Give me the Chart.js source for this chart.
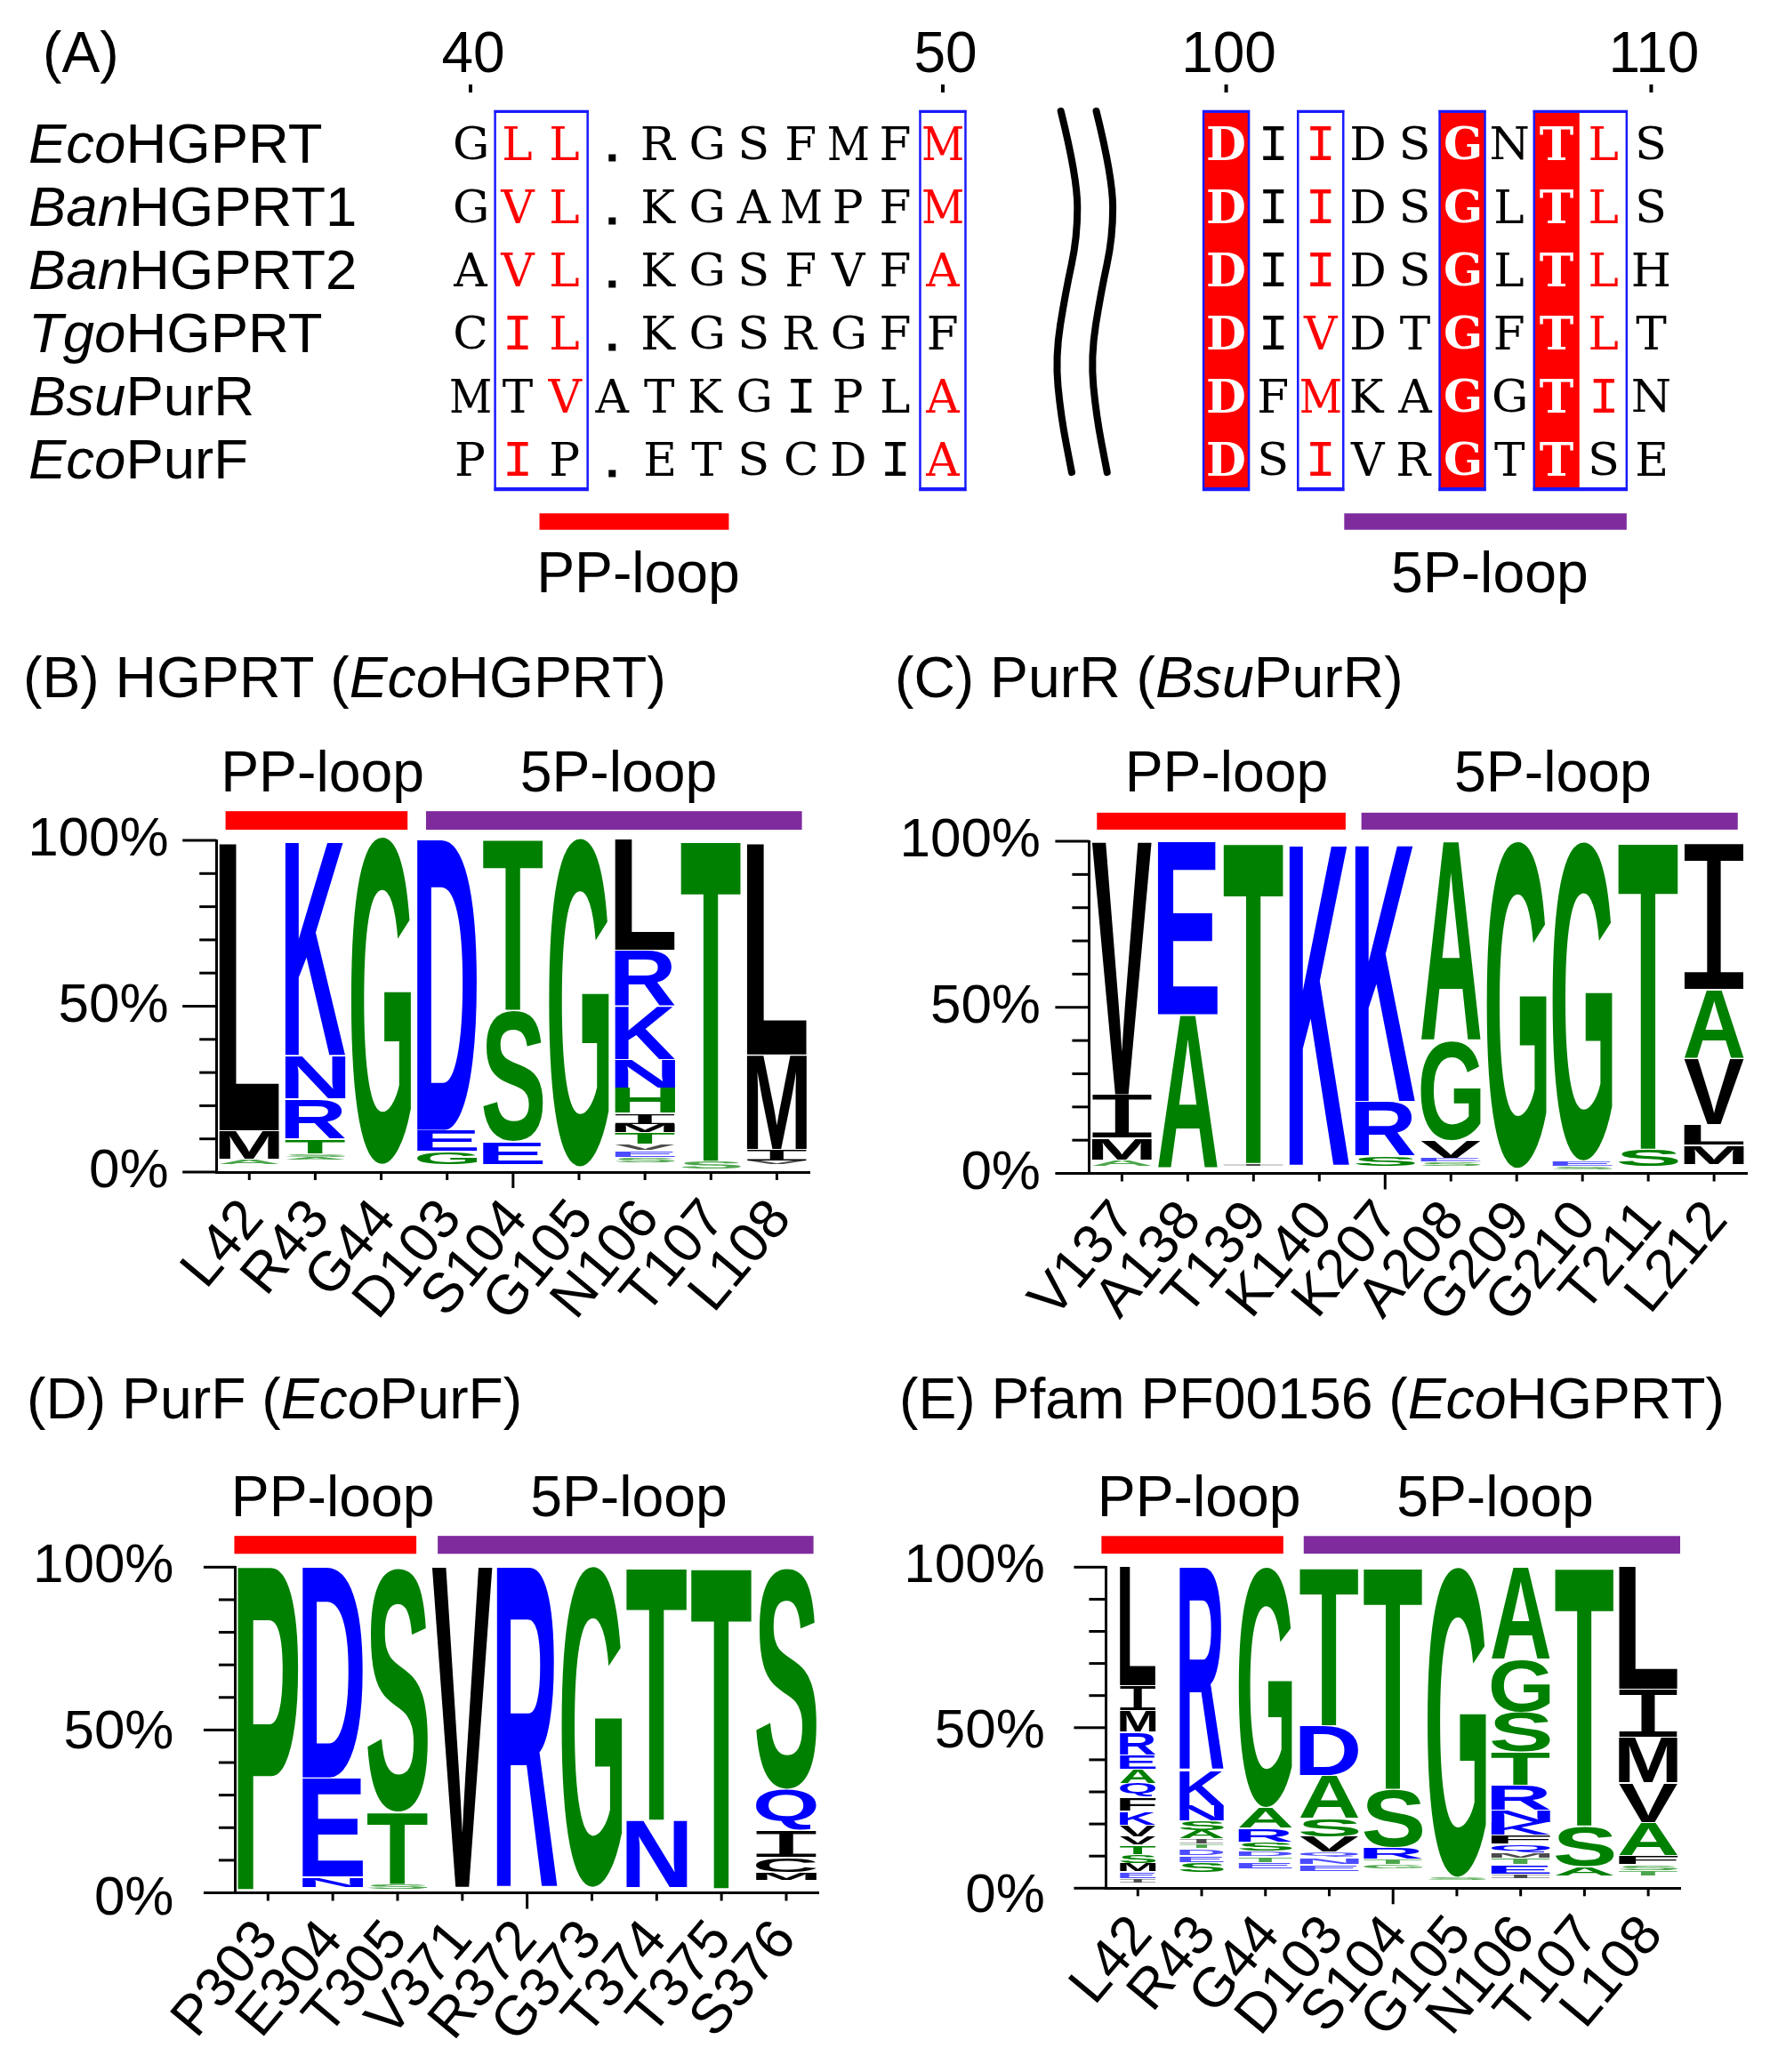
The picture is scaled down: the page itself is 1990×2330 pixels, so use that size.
<!DOCTYPE html>
<html>
<head>
<meta charset="utf-8">
<title>PP-loop and 5P-loop conservation</title>
<script src="https://cdn.jsdelivr.net/npm/chart.js@4.4.3/dist/chart.umd.min.js"></script>
<style>
  html, body { margin: 0; padding: 0; background: #fff; }
  #page { position: relative; width: 1990px; height: 2330px; overflow: hidden; }
  canvas { position: absolute; }
</style>
</head>
<body>
<div id="page"></div>
<script>
// (A) alignment
const rowItalic = ["Eco", "Ban", "Ban", "Tgo", "Bsu", "Eco"];
const rowRest = ["HGPRT", "HGPRT1", "HGPRT2", "HGPRT", "PurR", "PurF"];
const alignSeqs = [
  "GLL.RGSFMFM     DIIDSGNTLS",
  "GVL.KGAMPFM     DIIDSGLTLS",
  "AVL.KGSFVFA     DIIDSGLTLH",
  "CIL.KGSRGFF     DIVDTGFTLT",
  "MTVATKGIPLA     DFMKAGGTIN",
  "PIP.ETSCDIA     DSIVRGTTSE",
];
const alignRedText = [
  ".XX.......X.......X.....X.",
  ".XX.......X.......X.....X.",
  ".XX.......X.......X.....X.",
  ".XX...............X.....X.",
  "..X.......X.......X.....X.",
  ".X........X.......X.......",
];
const alignRuler = { 0: "40", 10: "50", 16: "100", 25: "110" };
const alignFilled = [16, 21, 23];
const alignBoxes = [[1, 2], [10, 10], [16, 16], [18, 18], [21, 21], [23, 24]];
const alignLoops = [[1.46, 5.47], [18.5, 24.48]];

// (B) HGPRT
const logoBLabels = ["L42", "R43", "G44", "D103", "S104", "G105", "N106", "T107", "L108"];
const logoBLetters = ["AML", "ASTRNK", "G", "GED", "EST", "G", "SEVTMIHNKRL", "ST", "VIML"];
const logoBBase = [2.3, 3.7, 2.3, 2.3, 2.3, 1.6, 2.9, 1.0, 2.3];
const logoBHeights = [
  [1.6, 8.6, 86.7],
  [0.8, 1.1, 4.4, 12.1, 13.1, 64.8],
  [98.9],
  [3.9, 6.4, 87.8],
  [6.9, 39.6, 51.7],
  [99.2],
  [1.65, 1.9, 2.1, 3.4, 2.5, 3.3, 7.7, 8.5, 16.2, 16.8, 33.4],
  [2.3, 97.0],
  [1.1, 3.4, 28.5, 63.8],
];

// (C) PurR
const logoCLabels = ["V137", "A138", "T139", "K140", "K207", "A208", "G209", "G210", "T211", "L212"];
const logoCLetters = ["AMIV", "AE", "IT", "K", "SRK", "SEVGA", "G", "SEG", "ST", "MLVAI"];
const logoCBase = [2.2, 1.5, 2.2, 2.5, 2.2, 2.2, 1.5, 1.1, 2.2, 2.7];
const logoCHeights = [
  [1.9, 6.6, 13.0, 76.2],
  [46.3, 52.2],
  [0.8, 97.0],
  [97.0],
  [3.0, 16.5, 77.7],
  [1.2, 1.1, 5.5, 29.8, 60.2],
  [98.6],
  [1.1, 1.6, 96.2],
  [5.1, 92.7],
  [5.9, 6.2, 19.9, 20.6, 44.1],
];

// (D) PurF
const logoDLabels = ["P303", "E304", "T305", "V371", "R372", "G373", "T374", "T375", "S376"];
const logoDLetters = ["P", "NED", "STS", "V", "R", "G", "NT", "T", "MCIQS"];
const logoDBase = [1.0, 1.7, 1.0, 1.7, 1.3, 1.7, 1.7, 1.3, 3.8];
const logoDHeights = [
  [99.9],
  [3.2, 30.4, 64.8],
  [1.7, 22.1, 74.9],
  [98.5],
  [98.9],
  [98.7],
  [20.6, 77.9],
  [98.9],
  [2.5, 4.5, 8.4, 12.6, 67.9],
];

// (E) Pfam PF00156
const logoELabels = ["L42", "R43", "G44", "D103", "S104", "G105", "N106", "T107", "L108"];
const logoELetters = ["IEMSTVVKFQAERMIL", "SEDTIASNKR", "ETDSRAG", "ENQVSADT", "GTRST", "SG", "IETMQFKNRTSGA", "AST", "TSFAVMIL"];
const logoEBase = [1.7, 5.0, 6.0, 5.3, 6.0, 2.4, 3.1, 3.8, 3.8];
const logoEHeights = [
  [1.4, 2.1, 2.6, 2.8, 2.8, 2.7, 3.6, 4.3, 4.3, 4.3, 4.4, 4.5, 7.1, 6.7, 7.7, 37.2],
  [3.1, 2.1, 2.1, 1.4, 1.7, 2.6, 3.1, 4.7, 10.9, 63.4],
  [2.1, 1.7, 1.8, 2.8, 4.3, 6.4, 75.0],
  [2.1, 2.1, 1.7, 4.7, 5.7, 13.5, 15.6, 49.4],
  [1.4, 1.8, 3.4, 18.2, 69.3],
  [1.0, 96.7],
  [1.4, 2.8, 2.1, 1.7, 2.6, 2.8, 4.0, 3.8, 7.8, 10.2, 12.5, 16.3, 28.8],
  [2.8, 12.8, 80.7],
  [1.7, 1.8, 2.8, 10.4, 12.4, 14.2, 14.9, 38.1],
];

const RED = "#ff0000";
const PURPLE = "#7f2b9e";
const BLUE = "#0000ff";
const GREEN = "#008000";
const BOX = "#1a1aff";
const SANS = '"Liberation Sans", Arial, sans-serif';
const LABEL_PX = 64.3;

Chart.defaults.font.family = SANS;
Chart.defaults.color = "#000";

function letterColor(c) {
  if ("DEKRNQ".includes(c)) return BLUE;
  if ("AGHSTP".includes(c)) return GREEN;
  return "#000";
}

// stretch one glyph so that its ink fills the given box
function drawGlyph(ctx, c, font, color, x, yTop, w, h) {
  ctx.save();
  ctx.font = font;
  ctx.textAlign = "left";
  ctx.textBaseline = "alphabetic";
  const m = ctx.measureText(c);
  const gw = m.actualBoundingBoxLeft + m.actualBoundingBoxRight;
  const gh = m.actualBoundingBoxAscent + m.actualBoundingBoxDescent;
  if (h < 8) ctx.globalAlpha = 0.7; // tiny letters wash out in the original
  ctx.translate(x, yTop);
  ctx.scale(w / gw, h / gh);
  ctx.fillStyle = color;
  ctx.fillText(c, m.actualBoundingBoxLeft, m.actualBoundingBoxAscent);
  ctx.restore();
}

// alternating upright / italic pieces
function drawRuns(ctx, runs, x, y, size) {
  ctx.save();
  ctx.textAlign = "left";
  ctx.textBaseline = "alphabetic";
  ctx.fillStyle = "#000";
  runs.forEach((t, i) => {
    ctx.font = `${i % 2 ? "italic " : ""}${size}px ${SANS}`;
    ctx.fillText(t, x, y);
    x += ctx.measureText(t).width;
  });
  ctx.restore();
}

function addCanvas(r) {
  const c = document.createElement("canvas");
  c.width = r.w; c.height = r.h;
  c.style.left = r.x + "px"; c.style.top = r.y + "px";
  c.style.width = r.w + "px"; c.style.height = r.h + "px";
  document.getElementById("page").appendChild(c);
  return c;
}

function logoChart(cfg, labels, letters, base, heights) {
  const r = cfg.rect;
  const layers = Math.max(...letters.map((s) => s.length));
  const datasets = [{ data: base, backgroundColor: "transparent", stack: "s" }];
  for (let k = 0; k < layers; k++) {
    datasets.push({
      data: heights.map((h) => (k < h.length ? h[k] : null)),
      letters: letters.map((s) => s[k] || null),
      backgroundColor: "transparent",
      stack: "s",
    });
  }
  const logoPlugin = {
    id: "logo",
    afterDatasetsDraw(chart) {
      const { ctx, scales: { x, y } } = chart;
      // stacked letters
      chart.data.datasets.forEach((ds, d) => {
        if (!ds.letters) return;
        chart.getDatasetMeta(d).data.forEach((el, j) => {
          const c = ds.letters[j];
          if (!c) return;
          const font = c === "I" ? '200px "Liberation Mono"' : `bold 200px ${SANS}`;
          const w = el.width * (cfg.colScale ? cfg.colScale[j] : 1);
          const h = Math.max(el.base - el.y - 1, 0.6);
          drawGlyph(ctx, c, font, letterColor(c), el.x - w / 2, el.y + 0.5, w, h);
        });
      });
      // axis ticks and their labels
      ctx.save();
      ctx.fillStyle = "#000";
      y.ticks.forEach((t) => {
        const py = y.getPixelForValue(t.value);
        const major = t.value % 50 === 0;
        const len = major ? cfg.yMajor : cfg.yMinor;
        ctx.fillRect(x.left - len, py - 1.5, len, 3);
        if (major) {
          ctx.font = `62px ${SANS}`;
          ctx.textAlign = "right";
          ctx.textBaseline = "middle";
          ctx.fillText(t.value + "%", cfg.yLabelRight - r.x, py + cfg.yLabelDrop * (1 - t.value / 100));
        }
      });
      x.ticks.forEach((t, i) => {
        const px = x.getPixelForTick(i);
        const len = i === cfg.midTick ? 18 : 9;
        ctx.fillRect(px - 1.5, y.bottom, 3, len);
      });
      // loop bars and their names
      cfg.loops.forEach((sp, i) => {
        const a = x.getPixelForValue(sp[0]), b = x.getPixelForValue(sp[1]);
        const t = y.getPixelForValue(cfg.loopTop), u = y.getPixelForValue(cfg.loopBottom);
        ctx.fillStyle = i ? PURPLE : RED;
        ctx.fillRect(a, t, b - a, u - t);
      });
      ctx.fillStyle = "#000";
      ctx.font = `${LABEL_PX}px ${SANS}`;
      ctx.textAlign = "center";
      ctx.textBaseline = "alphabetic";
      ["PP-loop", "5P-loop"].forEach((t, i) => {
        ctx.fillText(t, x.getPixelForValue(cfg.loopText[i]), y.getPixelForValue(cfg.loopTextY));
      });
      ctx.restore();
      drawRuns(ctx, cfg.title, cfg.titleX - r.x, cfg.titleY - r.y, LABEL_PX);
    },
  };
  return new Chart(addCanvas(r), {
    type: "bar",
    data: { labels, datasets },
    options: {
      responsive: false,
      animation: false,
      devicePixelRatio: 1,
      barPercentage: cfg.bar,
      categoryPercentage: 1,
      layout: { padding: { left: 0, right: r.x + r.w - cfg.right, top: cfg.top - r.y, bottom: 0 } },
      plugins: { legend: { display: false }, tooltip: { enabled: false } },
      scales: {
        x: {
          stacked: true,
          grid: { display: false, drawTicks: false },
          border: { color: "#000", width: 3 },
          afterFit: (s) => { s.height = r.y + r.h - cfg.bottom; },
          ticks: {
            autoSkip: false, minRotation: 50, maxRotation: 50,
            padding: 18, labelOffset: cfg.xOffset,
            font: { size: 62.5 }, color: "#000",
          },
        },
        y: {
          stacked: true, min: 0, max: 100,
          grid: { display: false, drawTicks: false },
          border: { color: "#000", width: 3 },
          afterFit: (s) => { s.width = cfg.left - r.x; },
          ticks: { display: false, stepSize: 10, autoSkip: false },
        },
      },
    },
    plugins: [logoPlugin],
  });
}

// ---- panel A
const alignCols = alignSeqs[0].split("").map((_, i) => alignRuler[i] || "");
const alignPlugin = {
  id: "align",
  afterDatasetsDraw(chart) {
    const { ctx, scales: { x, y } } = chart;
    const band = x.getPixelForValue(1) - x.getPixelForValue(0);
    // ruler dots
    ctx.fillStyle = "#000";
    Object.keys(alignRuler).forEach((k) => ctx.fillRect(x.getPixelForValue(+k) - 2, 95, 4, 9));
    // residues
    alignSeqs.forEach((seq, r) => {
      const cy = y.getPixelForValue(r + 0.5);
      seq.split("").forEach((c, i) => {
        if (c === " ") return;
        const cx = x.getPixelForValue(i);
        if (c === ".") { ctx.fillStyle = "#000"; ctx.fillRect(cx - 4, cy + 13, 8, 8); return; }
        const filled = alignFilled.includes(i);
        const color = filled ? "#fff" : alignRedText[r][i] === "X" ? RED : "#000";
        const font = c === "I" ? '120px "Liberation Mono"' : `${filled ? "bold " : ""}120px "DejaVu Serif"`;
        ctx.font = font;
        const m = ctx.measureText(c);
        const natural = (m.actualBoundingBoxLeft + m.actualBoundingBoxRight) * 38 / 88;
        const w = c === "I" ? 24 : Math.min(Math.max(natural, 28), 44);
        drawGlyph(ctx, c, font, color, cx - w / 2, cy - 19, w, 38);
      });
    });
    // conservation boxes, heavier along top and bottom
    ctx.strokeStyle = BOX;
    ctx.lineWidth = 2.5;
    ctx.fillStyle = BOX;
    alignBoxes.forEach(([a, b]) => {
      const l = x.getPixelForValue(a) - band * 0.48, rt = x.getPixelForValue(b) + band * 0.48;
      const t = y.getPixelForValue(0), u = y.getPixelForValue(6);
      ctx.strokeRect(l, t, rt - l, u - t);
      ctx.fillRect(l - 1, t - 1, rt - l + 2, 3);
      ctx.fillRect(l - 1, u - 3, rt - l + 2, 4);
    });
    // axis break
    ctx.strokeStyle = "#000";
    ctx.lineWidth = 8;
    ctx.lineCap = "round";
    const breakCols = [12.5, 12.85, 12.85, 12.6, 12.38, 12.5, 12.73];
    const breakRows = [0, 1.05, 2, 2.86, 3.89, 4.83, 5.72];
    [0, 0.75].forEach((dx) => {
      const pts = breakCols.map((c, i) => [x.getPixelForValue(c + dx), y.getPixelForValue(breakRows[i])]);
      ctx.beginPath();
      ctx.moveTo(pts[0][0], pts[0][1]);
      for (let i = 1; i < pts.length - 1; i++) {
        ctx.quadraticCurveTo(pts[i][0], pts[i][1], (pts[i][0] + pts[i + 1][0]) / 2, (pts[i][1] + pts[i + 1][1]) / 2);
      }
      ctx.lineTo(pts[pts.length - 1][0], pts[pts.length - 1][1]);
      ctx.stroke();
    });
    // loops
    alignLoops.forEach((sp, i) => {
      const a = x.getPixelForValue(sp[0]), b = x.getPixelForValue(sp[1]);
      const t = y.getPixelForValue(6.37), u = y.getPixelForValue(6.63);
      ctx.fillStyle = i ? PURPLE : RED;
      ctx.fillRect(a, t, b - a, u - t);
    });
    ctx.fillStyle = "#000";
    ctx.font = `${LABEL_PX}px ${SANS}`;
    ctx.textAlign = "center";
    ctx.textBaseline = "alphabetic";
    ctx.fillText("PP-loop", x.getPixelForValue(3.55), 666);
    ctx.fillText("5P-loop", x.getPixelForValue(21.58), 666);
    // row names, panel letter
    rowItalic.forEach((t, r) => drawRuns(ctx, ["", t, rowRest[r]], 32, y.getPixelForValue(r + 0.5) + 22, 63.5));
    drawRuns(ctx, ["(A)"], 48, 81, LABEL_PX);
  },
};
new Chart(addCanvas({ x: 0, y: 0, w: 1990, h: 700 }), {
  type: "bar",
  data: {
    labels: alignCols,
    datasets: [{
      data: alignCols.map((_, i) => (alignFilled.includes(i) ? 6 : null)),
      backgroundColor: RED,
    }],
  },
  options: {
    responsive: false,
    animation: false,
    devicePixelRatio: 1,
    barPercentage: 0.96,
    categoryPercentage: 1,
    layout: { padding: { left: 502.45, right: 107, top: 0, bottom: 149 } },
    plugins: { legend: { display: false }, tooltip: { enabled: false } },
    scales: {
      x: {
        position: "top",
        grid: { display: false, drawTicks: false },
        border: { display: false },
        afterFit: (s) => { s.height = 125; },
        ticks: { autoSkip: false, maxRotation: 0, minRotation: 0, padding: 23, labelOffset: 3, font: { size: 64 }, color: "#000" },
      },
      y: { display: false, reverse: true, min: 0, max: 6 },
    },
  },
  plugins: [alignPlugin],
});

// ---- panels B to E
logoChart({
  rect: { x: 0, y: 700, w: 990, h: 830 }, left: 243.2, right: 910.5, top: 945, bottom: 1318,
  bar: 0.91, yMajor: 38, yMinor: 19, yLabelRight: 189.7, yLabelDrop: 0, midTick: 4, xOffset: 5,
  loops: [[-0.36, 2.4], [2.68, 8.38]], loopTop: 108.8, loopBottom: 103.2,
  loopText: [1.11, 5.6], loopTextY: 114.7,
  title: ["(B) HGPRT (", "Eco", "HGPRT)"], titleX: 26, titleY: 784,
}, logoBLabels, logoBLetters, logoBBase, logoBHeights);

logoChart({
  rect: { x: 990, y: 700, w: 1100, h: 830 }, left: 1224.4, right: 1964.1, top: 946, bottom: 1319.5,
  bar: 0.91, yMajor: 38, yMinor: 19, yLabelRight: 1170, yLabelDrop: 0, midTick: 4, xOffset: 4,
  loops: [[-0.38, 3.4], [3.64, 9.36]], loopTop: 108.6, loopBottom: 103.5,
  loopText: [1.59, 6.55], loopTextY: 115,
  title: ["(C) PurR (", "Bsu", "PurR)"], titleX: 1006, titleY: 784,
}, logoCLabels, logoCLetters, logoCBase, logoCHeights);

logoChart({
  rect: { x: 0, y: 1530, w: 990, h: 800 }, left: 264.9, right: 920.4, top: 1762.3, bottom: 2128.5,
  bar: 0.935, yMajor: 36, yMinor: 19, yLabelRight: 195.5, yLabelDrop: 7, midTick: 4, xOffset: 0,
  loops: [[-0.52, 2.29], [2.62, 8.42]], loopTop: 109.6, loopBottom: 104.1,
  loopText: [1.0, 5.57], loopTextY: 115.7,
  title: ["(D) PurF (", "Eco", "PurF)"], titleX: 30, titleY: 1595,
}, logoDLabels, logoDLetters, logoDBase, logoDHeights);

logoChart({
  rect: { x: 990, y: 1530, w: 1100, h: 800 }, left: 1243.4, right: 1889, top: 1762.3, bottom: 2123.3,
  bar: 0.92, yMajor: 36, yMinor: 19, yLabelRight: 1174.9, yLabelDrop: 10, midTick: 4, xOffset: 5,
  colScale: [0.61, 0.75, 0.91, 1, 1, 1, 1, 1, 1],
  loops: [[-0.57, 2.28], [2.6, 8.5]], loopTop: 109.7, loopBottom: 104.2,
  loopText: [0.96, 5.6], loopTextY: 115.9,
  title: ["(E) Pfam PF00156 (", "Eco", "HGPRT)"], titleX: 1011, titleY: 1595,
}, logoELabels, logoELetters, logoEBase, logoEHeights);
</script>
</body>
</html>
